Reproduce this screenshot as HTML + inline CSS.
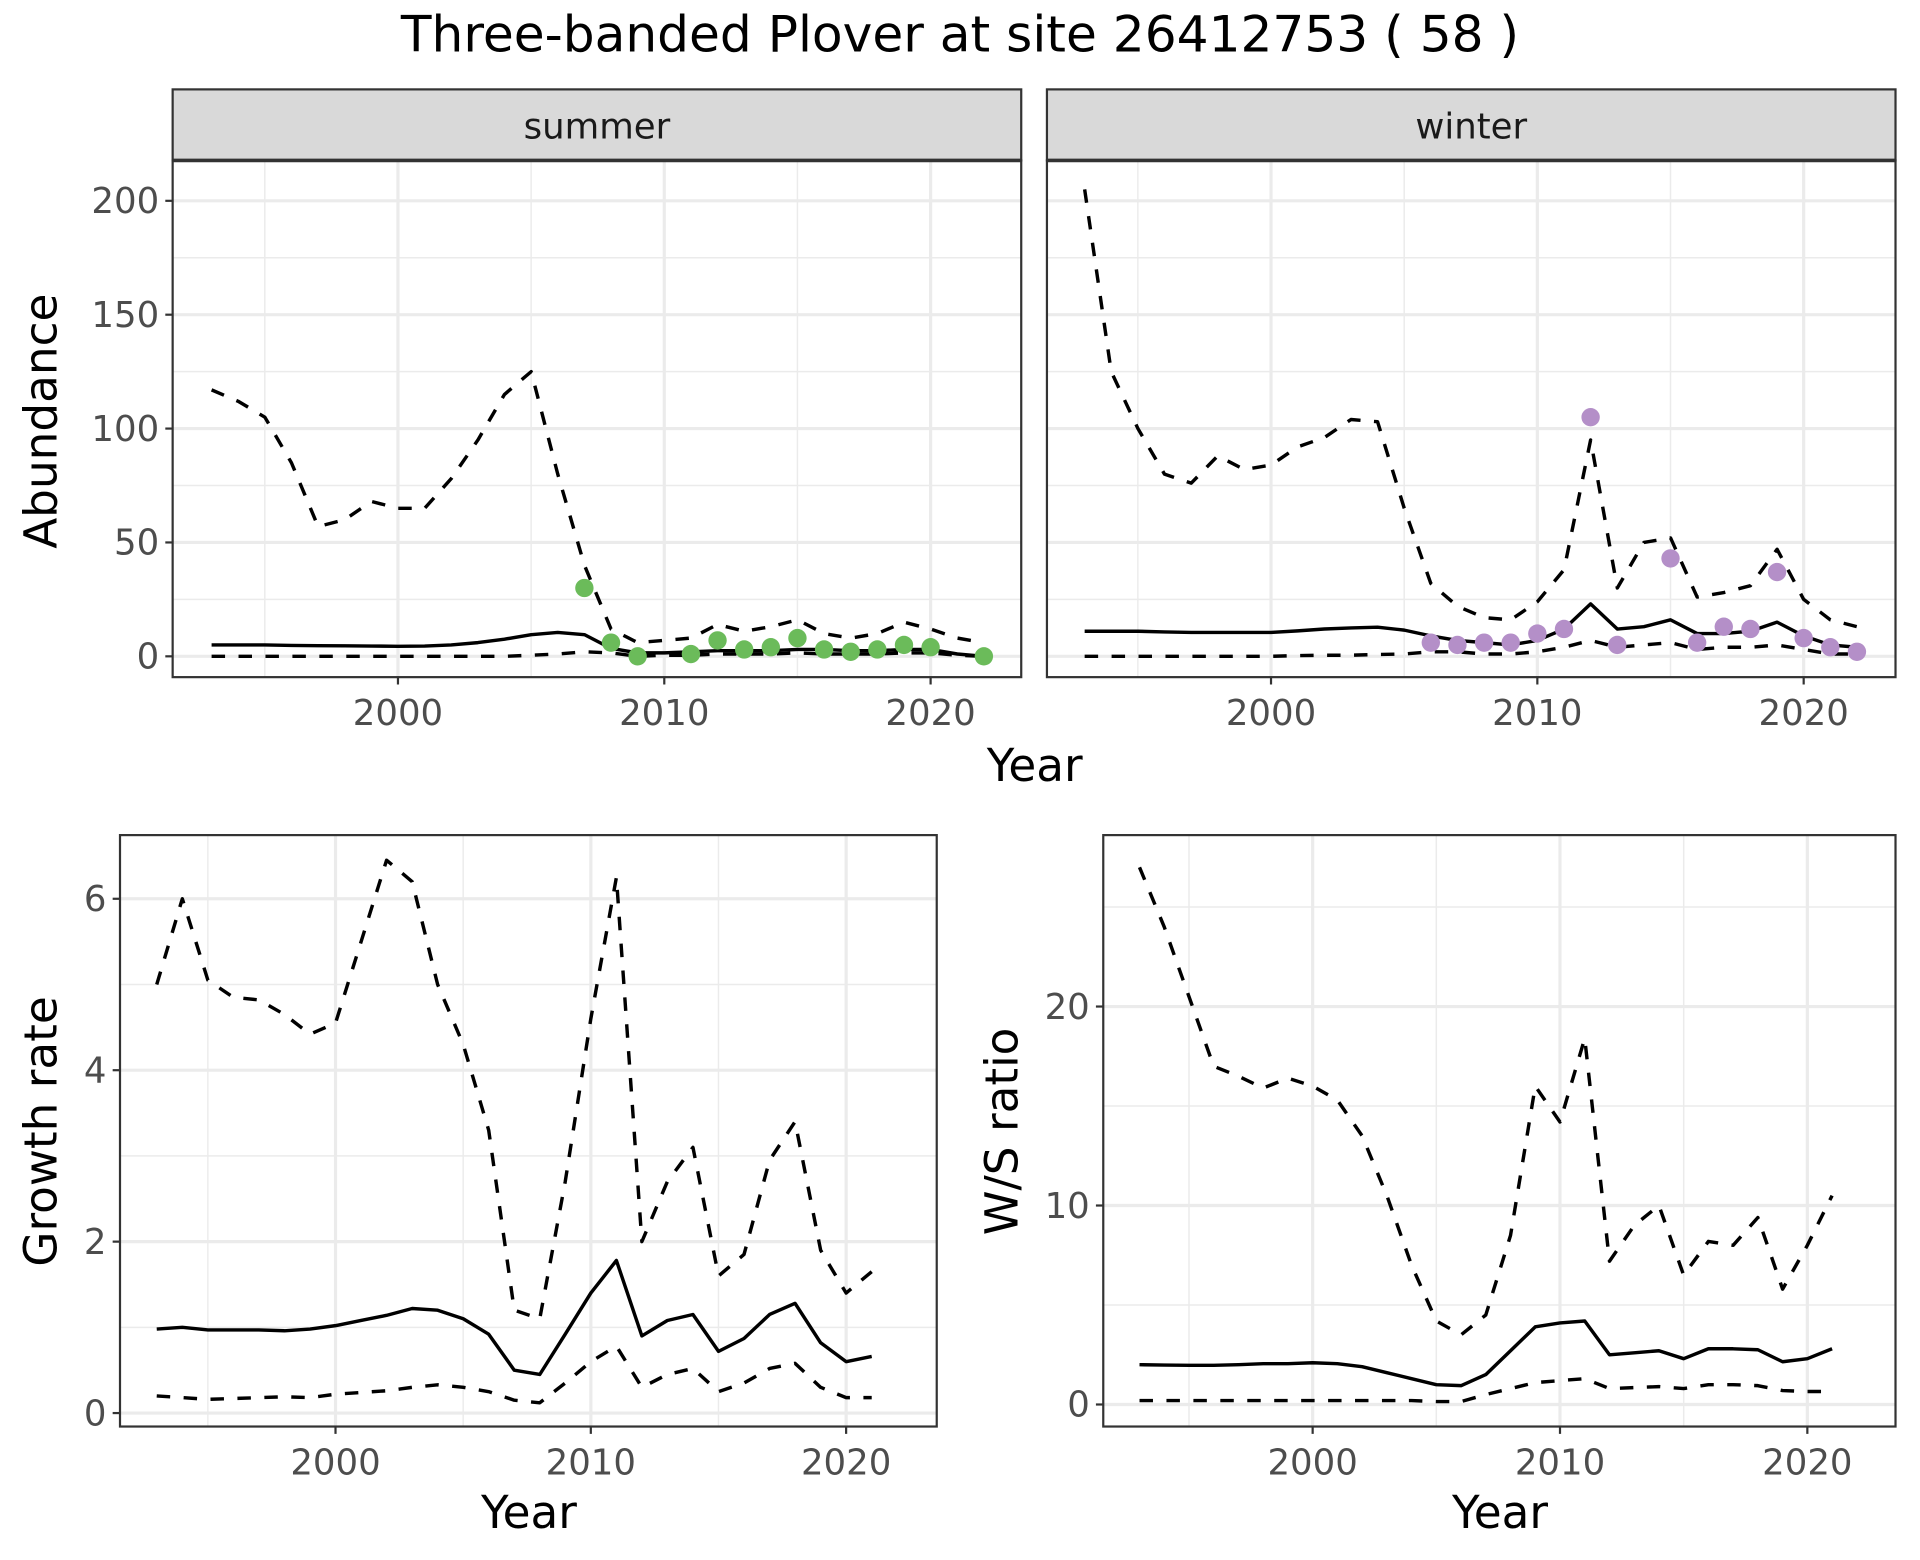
<!DOCTYPE html>
<html><head><meta charset="utf-8">
<style>
html,body{margin:0;padding:0;background:#fff;}
svg{display:block;font-family:"DejaVu Sans","Liberation Sans",sans-serif;}
</style></head>
<body>
<svg id="chart" width="1920" height="1560" viewBox="0 0 1568 1274" xmlns="http://www.w3.org/2000/svg">
<rect width="1568" height="1274" fill="#fff"/>
<text x="784" y="42" font-size="41" text-anchor="middle" fill="#000">Three-banded Plover at site 26412753 ( 58 )</text>
</svg>
<script>
// ---- data ----
const yearsAb = [1993,1994,1995,1996,1997,1998,1999,2000,2001,2002,2003,2004,2005,2006,2007,2008,2009,2010,2011,2012,2013,2014,2015,2016,2017,2018,2019,2020,2021,2022];
const summerMean = [5,5,5,4.8,4.7,4.6,4.5,4.4,4.5,5,6,7.5,9.5,10.5,9.5,3.5,1.5,1.5,2,2.5,2.5,2.5,3,3,2.5,2.5,3,3,1,0];
const summerUpper = [117,112,105,85,57,60,68,65,65,78,95,115,125,80,40,12,6,7,8,14,11,13,16,10,8,10,15,12,8,6];
const summerLower = [0,0,0,0,0,0,0,0,0,0,0,0,0.5,1,2,1.5,0,0.5,0.5,1,1,1,1.5,1,1,1,1.5,1.5,0.5,0];
const summerObsYears = [2007,2008,2009,2011,2012,2013,2014,2015,2016,2017,2018,2019,2020,2022];
const summerObs = [30,6,0,1,7,3,4,8,3,2,3,5,4,0];
const winterMean = [11,11,11,10.7,10.5,10.5,10.5,10.5,11.2,12,12.5,12.8,11.5,9,7,6,5,7,12,23,12,13,16,10,10,11,15,9,5,4];
const winterUpper = [205,125,100,80,76,88,82,84,92,96,104,103,65,32,22,17,16,24,38,95,30,50,52,26,28,31,47,25,16,13];
const winterLower = [0,0,0,0,0,0,0,0,0.3,0.5,0.5,0.8,1,2,2,1,1,2,4,7,4,5,6,3,4,4,5,3,1,1];
const winterObsYears = [2006,2007,2008,2009,2010,2011,2012,2013,2015,2016,2017,2018,2019,2020,2021,2022];
const winterObs = [6,5,6,6,10,12,105,5,43,6,13,12,37,8,4,2];
const yearsGr = [1993,1994,1995,1996,1997,1998,1999,2000,2001,2002,2003,2004,2005,2006,2007,2008,2009,2010,2011,2012,2013,2014,2015,2016,2017,2018,2019,2020,2021];
const growthMean = [0.98,1.0,0.97,0.97,0.97,0.96,0.98,1.02,1.08,1.14,1.22,1.2,1.1,0.92,0.5,0.45,0.92,1.4,1.78,0.9,1.08,1.15,0.72,0.87,1.15,1.28,0.82,0.6,0.66];
const growthUpper = [5.0,6.0,5.05,4.85,4.82,4.65,4.42,4.55,5.5,6.45,6.2,5.0,4.3,3.3,1.2,1.1,2.7,4.6,6.25,2.0,2.7,3.1,1.6,1.85,2.95,3.4,1.9,1.4,1.65];
const growthLower = [0.2,0.18,0.16,0.17,0.18,0.19,0.18,0.22,0.24,0.26,0.3,0.33,0.3,0.25,0.15,0.12,0.35,0.6,0.78,0.3,0.45,0.52,0.25,0.35,0.52,0.58,0.3,0.18,0.18];
const ratioMean = [2.0,1.98,1.97,1.97,2.0,2.05,2.05,2.1,2.05,1.9,1.6,1.3,1.0,0.95,1.5,2.7,3.9,4.1,4.2,2.5,2.6,2.7,2.3,2.8,2.8,2.75,2.15,2.3,2.8];
const ratioUpper = [27,24,20.5,17,16.5,15.9,16.4,16,15.3,13.5,10.5,7,4.2,3.5,4.5,8.5,16,14.2,18.4,7.2,9,10,6.5,8.2,8,9.4,5.8,8,10.5];
const ratioLower = [0.2,0.2,0.2,0.2,0.2,0.2,0.2,0.2,0.2,0.2,0.2,0.2,0.15,0.15,0.5,0.8,1.1,1.2,1.3,0.8,0.85,0.9,0.8,1.0,1.0,0.95,0.7,0.65,0.65];
const abTicks = [0,50,100,150,200];
const grTicks = [0,2,4,6];
const ratioTicks = [0,10,20];
const yearTicks = [2000,2010,2020];

const NS="http://www.w3.org/2000/svg";
const svg=document.getElementById('chart');
function mk(tag,attrs,parent){const e=document.createElementNS(NS,tag);for(const k in attrs)e.setAttribute(k,attrs[k]);(parent||svg).appendChild(e);return e;}

function panel(cfg){
  const g=mk('g',{});
  
  
  const {x0,x1,y0,y1}=cfg;
  const sx=v=>cfg.xa+(v-2000)*cfg.xk;
  const sy=v=>cfg.ya-v*cfg.yk;
  mk('rect',{x:x0,y:y0,width:x1-x0,height:y1-y0,fill:'#fff'},g);
  const yt=cfg.ticks;
  const step=yt[1]-yt[0];
  for(let v=yt[0]-step/2; v<=yt[yt.length-1]+step*1.5; v+=step){const y=sy(v); if(y>y0&&y<y1) mk('line',{x1:x0,x2:x1,y1:y,y2:y,stroke:'#ebebeb','stroke-width':1.2},g);}
  for(const yr of [1995,2005,2015]){const x=sx(yr); if(x>x0&&x<x1) mk('line',{x1:x,x2:x,y1:y0,y2:y1,stroke:'#ebebeb','stroke-width':1.2},g);}
  yt.forEach(v=>{const y=sy(v);mk('line',{x1:x0,x2:x1,y1:y,y2:y,stroke:'#ebebeb','stroke-width':2.6},g);});
  yearTicks.forEach(v=>{const x=sx(v);mk('line',{x1:x,x2:x,y1:y0,y2:y1,stroke:'#ebebeb','stroke-width':2.6},g);});
  const line=(ys,vals,dash,nm)=>{
    const p=mk('polyline',{points:ys.map((yr,i)=>sx(yr).toFixed(1)+','+sy(vals[i]).toFixed(1)).join(' '),fill:'none',stroke:'#000','stroke-width':2.8,'stroke-linejoin':'round'},g);
    if(dash)p.setAttribute('stroke-dasharray','11,11');
    
    
  };
  line(cfg.years,cfg.upper,true,'upper-bound-line');
  line(cfg.years,cfg.lower,true,'lower-bound-line');
  line(cfg.years,cfg.mean,false,'mean-line');
  if(cfg.obs){cfg.obsYears.forEach((yr,i)=>{const c=mk('circle',{cx:sx(yr),cy:sy(cfg.obs[i]),r:7.5,fill:cfg.color},g);
    
    });}
  mk('rect',{x:x0,y:y0,width:x1-x0,height:y1-y0,fill:'none',stroke:'#333','stroke-width':1.8},g);
  if(cfg.ylabels){yt.forEach(v=>{const y=sy(v);mk('line',{x1:x0-6,x2:x0,y1:y,y2:y,stroke:'#333','stroke-width':1.8},g);
    const t=mk('text',{x:x0-11,y:y+10,'font-size':29,fill:'#4d4d4d','text-anchor':'end'},g);t.textContent=v;
    
    });}
  yearTicks.forEach(v=>{const x=sx(v);mk('line',{x1:x,x2:x,y1:y1,y2:y1+6,stroke:'#333','stroke-width':1.8},g);
    const t=mk('text',{x:x,y:y1+39,'font-size':29,fill:'#4d4d4d','text-anchor':'middle'},g);t.textContent=v;
    
    });
  if(cfg.strip){const s=mk('rect',{x:x0,y:73,width:x1-x0,height:y0-73,fill:'#d9d9d9',stroke:'#333','stroke-width':1.8},g);
    
    
    mk('line',{x1:x0,x2:x1,y1:y0,y2:y0,stroke:'#333','stroke-width':3},g);
    const t=mk('text',{x:(x0+x1)/2,y:113,'font-size':29,fill:'#1a1a1a','text-anchor':'middle'},g);t.textContent=cfg.strip;
    
    }
}

panel({name:'summer-panel',x0:141,x1:834,y0:131,y1:553,xa:325,xk:21.75,ya:536,yk:1.86,ticks:abTicks,ylabels:true,years:yearsAb,mean:summerMean,upper:summerUpper,lower:summerLower,obsYears:summerObsYears,obs:summerObs,color:'#6bbb5a',strip:'summer'});
panel({name:'winter-panel',x0:855,x1:1548,y0:131,y1:553,xa:1038,xk:21.75,ya:536,yk:1.86,ticks:abTicks,ylabels:false,years:yearsAb,mean:winterMean,upper:winterUpper,lower:winterLower,obsYears:winterObsYears,obs:winterObs,color:'#b48fc8',strip:'winter'});
panel({name:'growth-rate-panel',x0:98,x1:765,y0:682,y1:1165,xa:274,xk:20.85,ya:1154,yk:70,ticks:grTicks,ylabels:true,years:yearsGr,mean:growthMean,upper:growthUpper,lower:growthLower});
panel({name:'ws-ratio-panel',x0:901,x1:1548,y0:682,y1:1165,xa:1072,xk:20.2,ya:1147,yk:16.25,ticks:ratioTicks,ylabels:true,years:yearsGr,mean:ratioMean,upper:ratioUpper,lower:ratioLower});

function label(txt,x,y,rot,nm){const t=mk('text',{x:x,y:y,'font-size':37,fill:'#000','text-anchor':'middle'});
  if(rot)t.setAttribute('transform','rotate(-90 '+x+' '+y+')');t.textContent=txt;
  
  }
label('Year',845,638,false,'top-x-axis-title');
label('Abundance',46,344,true,'abundance-axis-title');
label('Year',432,1248,false,'growth-x-axis-title');
label('Growth rate',46,924,true,'growth-axis-title');
label('Year',1225,1248,false,'ratio-x-axis-title');
label('W/S ratio',831,924,true,'ratio-axis-title');
</script>
</body></html>
